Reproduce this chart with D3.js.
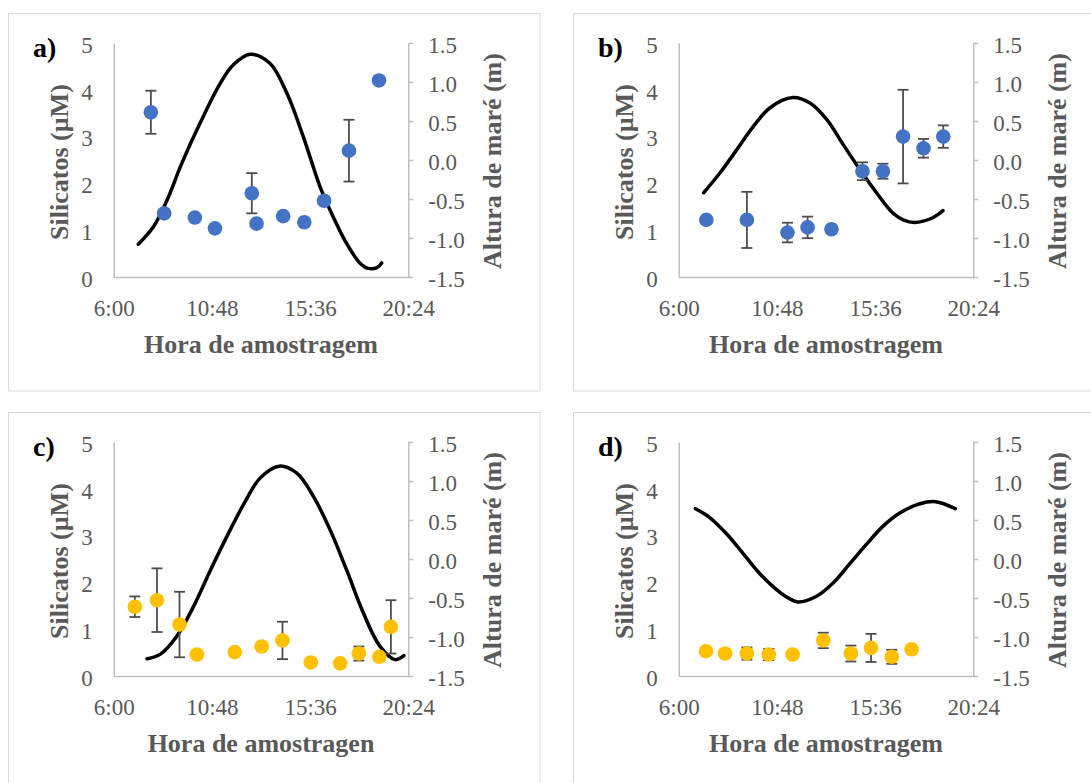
<!DOCTYPE html>
<html>
<head>
<meta charset="utf-8">
<script src="https://cdn.jsdelivr.net/npm/d3@7"></script>
<style>
  html, body { margin: 0; padding: 0; background: #fff; }
  svg { display: block; font-family: "Liberation Serif", "Times New Roman", serif; }
</style>
</head>
<body>
<svg id="chart" width="1091" height="783"></svg>
<script>
// Tick labels shared by the four panels
const timeTicks = ["6:00", "10:48", "15:36", "20:24"];
const silTicks = [0, 1, 2, 3, 4, 5];
const tideTicks = [-1.5, -1.0, -0.5, 0.0, 0.5, 1.0, 1.5];

// a) silicate samples (mean, error) and tide height
const timesA = ["7:49", "8:28", "9:58", "10:57", "12:45", "12:59", "14:17", "15:19", "16:17", "17:30", "18:58"];
const silA   = [3.52, 1.36, 1.27, 1.04, 1.79, 1.14, 1.30, 1.17, 1.63, 2.70, 4.20];
const errA   = [0.46, 0.05, 0.05, 0.05, 0.43, 0.05, 0.05, 0.05, 0.05, 0.66, 0.05];
const tideTimesA = ["7:12", "7:56", "8:35", "9:19", "10:13", "11:12", "11:51", "12:40", "13:38", "14:28", "15:16", "16:05", "16:44", "17:23", "18:02", "18:27", "18:52", "19:06"];
const tideA      = [-1.08, -0.86, -0.53, -0.05, 0.47, 0.98, 1.22, 1.355, 1.24, 0.855, 0.30, -0.34, -0.73, -1.07, -1.32, -1.39, -1.38, -1.32];

// b)
const timesB = ["7:21", "9:20", "11:19", "12:18", "13:28", "14:59", "15:59", "16:58", "17:58", "18:56"];
const silB   = [1.22, 1.22, 0.95, 1.06, 1.02, 2.26, 2.26, 3.00, 2.75, 3.00];
const errB   = [0.05, 0.60, 0.21, 0.23, 0.05, 0.19, 0.16, 1.00, 0.20, 0.24];
const tideTimesB = ["7:13", "8:02", "8:50", "9:39", "10:28", "11:34", "12:25", "13:14", "14:02", "14:51", "15:40", "16:28", "17:00", "17:32", "18:25", "18:55"];
const tideB      = [-0.42, -0.16, 0.13, 0.43, 0.67, 0.80, 0.73, 0.52, 0.20, -0.12, -0.42, -0.68, -0.77, -0.80, -0.74, -0.65];

// c)
const timesC = ["7:02", "8:07", "9:13", "10:04", "11:55", "13:14", "14:15", "15:38", "17:04", "17:59", "18:59", "19:33"];
const silC   = [1.48, 1.62, 1.10, 0.46, 0.51, 0.63, 0.76, 0.29, 0.27, 0.48, 0.41, 1.05];
const errC   = [0.22, 0.68, 0.70, 0.05, 0.05, 0.05, 0.40, 0.05, 0.05, 0.15, 0.05, 0.57];
const tideTimesC = ["7:38", "8:17", "9:05", "9:54", "10:43", "11:32", "12:21", "13:10", "14:05", "14:57", "15:46", "16:35", "17:23", "18:12", "19:01", "19:45", "20:11"];
const tideC      = [-1.28, -1.22, -0.99, -0.61, -0.15, 0.29, 0.70, 1.04, 1.19, 1.10, 0.80, 0.37, -0.14, -0.69, -1.12, -1.29, -1.24];

// d)
const timesD = ["7:20", "8:16", "9:20", "10:24", "11:34", "13:04", "14:25", "15:24", "16:25", "17:23"];
const silD   = [0.53, 0.48, 0.48, 0.46, 0.46, 0.76, 0.48, 0.60, 0.41, 0.57];
const errD   = [0.05, 0.05, 0.13, 0.12, 0.05, 0.165, 0.17, 0.30, 0.15, 0.05];
const tideTimesD = ["6:49", "7:30", "8:19", "9:08", "9:56", "10:46", "11:14", "11:49", "12:43", "13:32", "14:20", "15:09", "15:58", "16:47", "17:45", "18:34", "19:31"];
const tideD      = [0.645, 0.535, 0.33, 0.075, -0.18, -0.39, -0.48, -0.55, -0.48, -0.31, -0.07, 0.18, 0.415, 0.586, 0.705, 0.734, 0.645];

const blue = "#4472C4", gold = "#FFC000";

const panels = [
  { label: "a)", times: timesA, sil: silA, err: errA, tt: tideTimesA, tide: tideA, color: blue, xTitle: "Hora de amostragem", dx: 0, dy: 0 },
  { label: "b)", times: timesB, sil: silB, err: errB, tt: tideTimesB, tide: tideB, color: blue, xTitle: "Hora de amostragem", dx: 565, dy: 0 },
  { label: "c)", times: timesC, sil: silC, err: errC, tt: tideTimesC, tide: tideC, color: gold, xTitle: "Hora de amostragen", dx: 0, dy: 399 },
  { label: "d)", times: timesD, sil: silD, err: errD, tt: tideTimesD, tide: tideD, color: gold, xTitle: "Hora de amostragem", dx: 565, dy: 399 }
];

const hours = s => { const [h, m] = s.split(":").map(Number); return h + m / 60; };

const svg = d3.select("#chart");
svg.append("rect").attr("width", 1091).attr("height", 783).attr("fill", "#fff");

const plot = { left: 113.7, right: 408.3, top: 43, bottom: 277 };
const axisColor = "#BFBFBF", textColor = "#595959";

const x = d3.scaleLinear().domain([hours(timeTicks[0]), hours(timeTicks[timeTicks.length - 1])]).range([plot.left, plot.right]);
const yL = d3.scaleLinear().domain([0, 5]).range([plot.bottom, plot.top]);
const yR = d3.scaleLinear().domain([-1.5, 1.5]).range([plot.bottom, plot.top]);

function styleAxis(sel) {
  sel.select(".domain").attr("stroke", axisColor).attr("stroke-width", 1.5).attr("fill", "none");
  sel.selectAll(".tick line").attr("stroke", axisColor).attr("stroke-width", 1.5);
  sel.selectAll(".tick text").attr("fill", textColor).attr("font-size", 23)
     .attr("font-family", '"Liberation Serif", "Times New Roman", serif');
}

panels.forEach(p => {
  const g = svg.append("g").attr("transform", `translate(${p.dx},${p.dy})`);

  // chart frame
  g.append("rect").attr("x", 8.5).attr("y", 13.5).attr("width", 531.5).attr("height", 377.5)
    .attr("fill", "#fff").attr("stroke", "#D9D9D9").attr("stroke-width", 1);

  // axes
  g.append("g").attr("transform", `translate(0,${plot.bottom})`)
    .call(d3.axisBottom(x).tickValues(timeTicks.map(hours)).tickFormat((d, i) => timeTicks[i])
      .tickSize(0).tickSizeOuter(0).tickPadding(23))
    .call(styleAxis);
  g.append("g").attr("transform", `translate(${plot.left},0)`)
    .call(d3.axisLeft(yL).tickValues(silTicks).tickFormat(d => String(d))
      .tickSize(0).tickSizeOuter(0).tickPadding(21))
    .call(styleAxis)
    .selectAll(".tick text").attr("dy", "0.4em");
  g.append("g").attr("transform", `translate(${plot.right},0)`)
    .call(d3.axisRight(yR).tickValues(tideTicks).tickFormat(d => d.toFixed(1))
      .tickSize(5).tickSizeOuter(0).tickPadding(15))
    .call(styleAxis)
    .selectAll(".tick text").attr("dy", "0.4em");

  // tide height curve (secondary axis)
  const tidePts = p.tt.map((t, i) => ({ t: hours(t), v: p.tide[i] }));
  g.append("path").datum(tidePts)
    .attr("fill", "none").attr("stroke", "#000").attr("stroke-width", 3.5)
    .attr("stroke-linecap", "round").attr("stroke-linejoin", "round")
    .attr("d", d3.line().x(d => x(d.t)).y(d => yR(d.v)).curve(d3.curveCatmullRom.alpha(0.5)));

  // silicate samples with error bars
  const pts = p.times.map((t, i) => ({ t: hours(t), v: p.sil[i], e: p.err[i] }));
  const eb = g.append("g").attr("stroke", "#4d4d4d").attr("stroke-width", 1.8);
  pts.forEach(d => {
    const cx = x(d.t), y1 = yL(d.v - d.e), y2 = yL(d.v + d.e);
    eb.append("line").attr("x1", cx).attr("x2", cx).attr("y1", y1).attr("y2", y2);
    eb.append("line").attr("x1", cx - 5.5).attr("x2", cx + 5.5).attr("y1", y1).attr("y2", y1);
    eb.append("line").attr("x1", cx - 5.5).attr("x2", cx + 5.5).attr("y1", y2).attr("y2", y2);
  });
  g.append("g").selectAll("circle").data(pts).join("circle")
    .attr("cx", d => x(d.t)).attr("cy", d => yL(d.v)).attr("r", 7.3).attr("fill", p.color);

  // titles
  g.append("text").attr("x", (plot.left + plot.right) / 2).attr("y", 352.5)
    .attr("text-anchor", "middle").attr("font-size", 26).attr("font-weight", "bold")
    .attr("fill", textColor).text(p.xTitle);
  g.append("text").attr("transform", `translate(68,162) rotate(-90)`)
    .attr("text-anchor", "middle").attr("font-size", 26).attr("font-weight", "bold")
    .attr("fill", textColor).text("Silicatos (µM)");
  g.append("text").attr("transform", `translate(501,161) rotate(-90)`)
    .attr("text-anchor", "middle").attr("font-size", 26).attr("font-weight", "bold")
    .attr("fill", textColor).text("Altura de maré (m)");

  // panel letter
  g.append("text").attr("x", 33).attr("y", 57)
    .attr("font-size", 28).attr("font-weight", "bold").attr("fill", "#000").text(p.label);
});
</script>
</body>
</html>
